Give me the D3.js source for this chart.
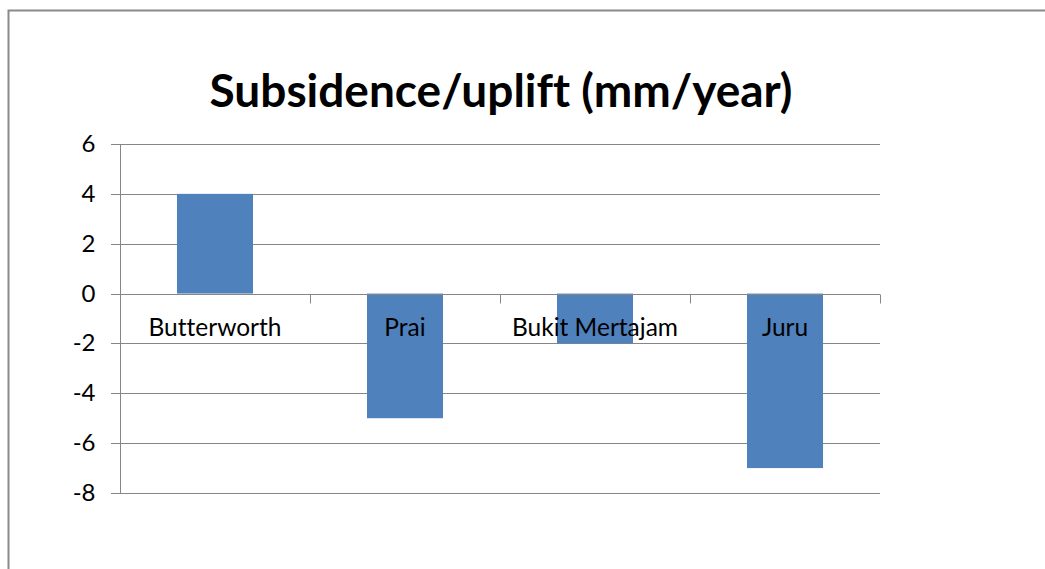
<!DOCTYPE html>
<html>
<head>
<meta charset="utf-8">
<script src="https://cdn.jsdelivr.net/npm/d3@7"></script>
<style>
  html, body { margin: 0; padding: 0; background: #fff; }
  svg { display: block; }
  text { font-variant-ligatures: none; font-feature-settings: "liga" 0, "clig" 0; }
</style>
</head>
<body>
<script>
const title = "Subsidence/uplift (mm/year)";
const categories = ["Butterworth", "Prai", "Bukit Mertajam", "Juru"];
const values = [4, -5, -2, -7];
const yTicks = [6, 4, 2, 0, -2, -4, -6, -8];
const yTickLabels = ["6", "4", "2", "0", "-2", "-4", "-6", "-8"];
const yDomain = [-8, 6];

const W = 1045, H = 569;
const FONT = "Lato, 'Open Sans', sans-serif";
const plot = { left: 120, right: 880, top: 144, bottom: 493 };

const svg = d3.select("body").append("svg").attr("width", W).attr("height", H);

// frame
svg.append("path")
  .attr("d", `M8.5,${H + 5} V10.5 H${W + 5}`)
  .attr("fill", "none").attr("stroke", "#8a8a8a").attr("stroke-width", 2);

const x = d3.scaleBand().domain(categories).range([plot.left, plot.right]).paddingInner(0.6).paddingOuter(0.3);
const y = d3.scaleLinear().domain(yDomain).range([plot.bottom, plot.top]);

function fitText(sel, target) {
  const w = sel.node().getComputedTextLength();
  const fs = parseFloat(sel.attr("font-size"));
  sel.attr("font-size", fs * target / w);
}

// gridlines
const grid = svg.append("g");
grid.selectAll("line").data(yTicks.filter(t => t !== 0)).join("line")
  .attr("x1", plot.left - 9).attr("x2", plot.right)
  .attr("y1", d => Math.round(y(d)) + 0.5).attr("y2", d => Math.round(y(d)) + 0.5)
  .attr("stroke", "#868686").attr("stroke-width", 1);

// bars
svg.append("g").selectAll("rect").data(categories).join("rect")
  .attr("x", d => x(d))
  .attr("width", x.bandwidth())
  .attr("y", (d, i) => y(Math.max(0, values[i])))
  .attr("height", (d, i) => Math.abs(y(values[i]) - y(0)))
  .attr("fill", "#4f81bd");

// y axis
const yAxis = d3.axisLeft(y).tickValues(yTicks).tickSize(9).tickPadding(16)
  .tickFormat(d => yTickLabels[yTicks.indexOf(d)]);
const yg = svg.append("g").attr("transform", `translate(${plot.left + 0.5},0)`).call(yAxis);
yg.select(".domain").attr("stroke", "#868686").attr("d", `M0,${Math.round(y(6))}V${Math.round(y(-8)) + 0.5}`);
yg.selectAll(".tick line").attr("stroke", "#868686");
yg.selectAll(".tick").attr("transform", d => `translate(0,${Math.round(y(d)) + 0.5})`);
yg.selectAll(".tick text").attr("font-family", FONT).attr("font-size", 24).attr("fill", "#000")
  .attr("dy", "0.33em");

// x axis at zero
const xAxis = d3.axisBottom(x).tickSize(0).tickFormat("");
const xg = svg.append("g").attr("transform", `translate(0,${Math.round(y(0)) + 0.5})`).call(xAxis);
xg.select(".domain").attr("stroke", "#868686").attr("d", `M${plot.left - 9},0H${plot.right}`);
// category boundary ticks
xg.selectAll(".btick").data(categories.map(c => x(c) + x.bandwidth() / 2 + x.step() / 2)).join("line")
  .attr("class", "btick")
  .attr("x1", d => Math.round(d) + 0.5).attr("x2", d => Math.round(d) + 0.5)
  .attr("y1", 0).attr("y2", 9).attr("stroke", "#868686");

// category labels
const labels = svg.append("g").selectAll("text").data(categories).join("text")
  .attr("x", d => x(d) + x.bandwidth() / 2)
  .attr("y", 336)
  .attr("text-anchor", "middle")
  .attr("font-family", FONT).attr("font-size", 22).attr("fill", "#000")
  .text(d => d);
const bw = labels.filter(d => d === "Butterworth");
const w0 = bw.node().getComputedTextLength();
labels.attr("font-size", 22 * 133 / w0);

// title
const t = svg.append("text")
  .attr("x", (plot.left + plot.right) / 2 + 1)
  .attr("y", 107)
  .attr("text-anchor", "middle")
  .attr("font-family", FONT).attr("font-weight", "bold").attr("font-size", 36).attr("fill", "#000")
  .text(title);
fitText(t, 583);
</script>
</body>
</html>
